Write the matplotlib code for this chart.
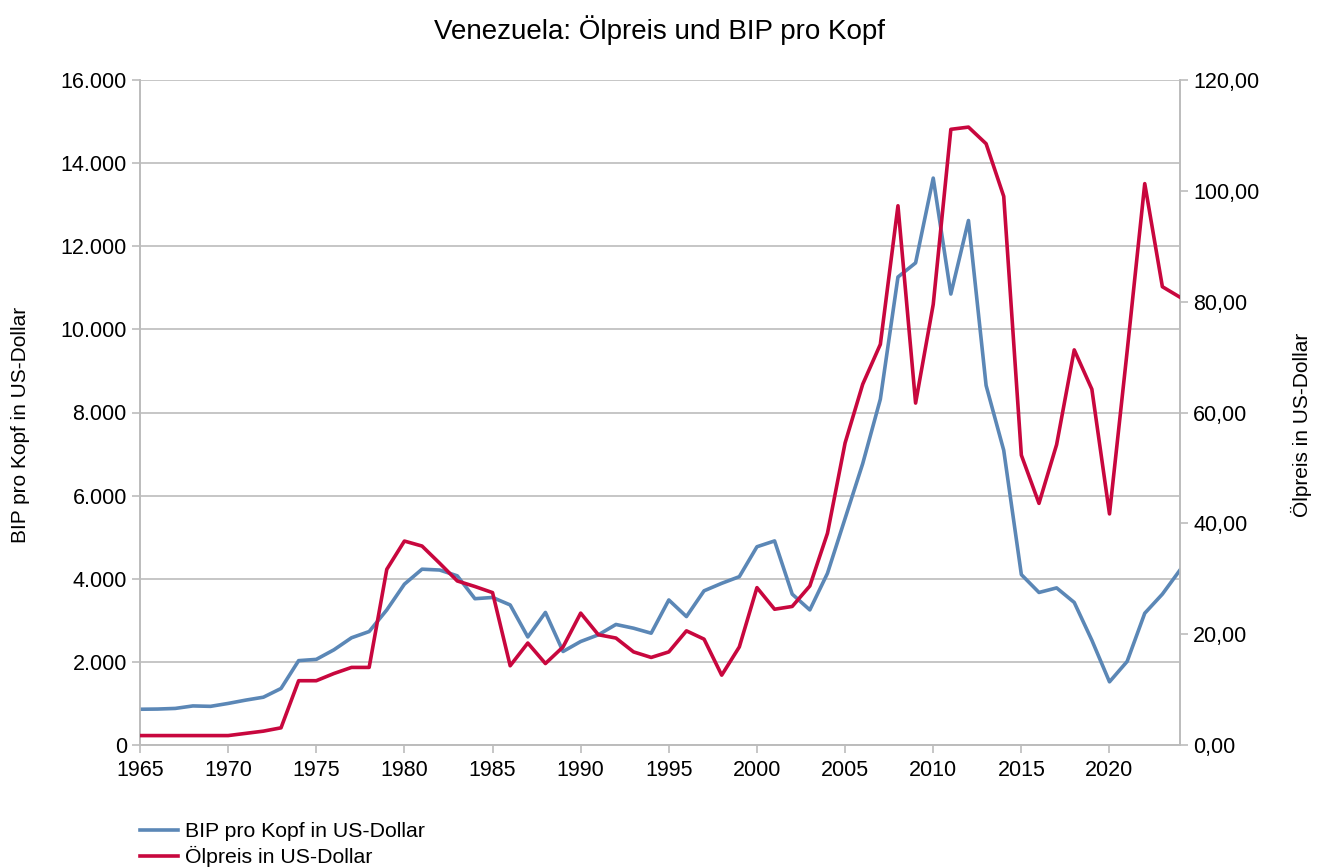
import matplotlib
matplotlib.use("Agg")
import matplotlib.pyplot as plt
from matplotlib.ticker import FuncFormatter, MultipleLocator

plt.rcParams['font.family'] = ['Liberation Sans', 'DejaVu Sans']

# Jahre 1965 - 2024
years = list(range(1965, 2025))

# BIP pro Kopf in US-Dollar (linke Achse)
bip = [860, 865, 880, 940, 930, 1000, 1080, 1150, 1360, 2030,
       2060, 2290, 2580, 2730, 3250, 3870, 4230, 4210, 4070, 3520,
       3550, 3370, 2600, 3190, 2250, 2490, 2650, 2900, 2810, 2690,
       3490, 3090, 3710, 3890, 4050, 4770, 4910, 3630, 3250, 4130,
       5450, 6770, 8320, 11260, 11600, 13640, 10850, 12620, 8650, 7090,
       4100, 3670, 3780, 3430, 2520, 1520, 2010, 3170, 3630, 4210]

# Ölpreis in US-Dollar (rechte Achse)
oel = [1.7, 1.7, 1.7, 1.7, 1.7, 1.7, 2.1, 2.5, 3.1, 11.6,
       11.6, 12.9, 14.0, 14.0, 31.7, 36.8, 35.9, 32.8, 29.6, 28.6,
       27.5, 14.3, 18.4, 14.7, 17.7, 23.8, 19.9, 19.3, 16.8, 15.8,
       16.8, 20.6, 19.1, 12.6, 17.7, 28.4, 24.5, 25.0, 28.7, 38.2,
       54.5, 65.1, 72.3, 97.3, 61.7, 79.5, 111.1, 111.5, 108.5, 99.0,
       52.3, 43.6, 54.2, 71.3, 64.2, 41.7, 71.0, 101.3, 82.7, 80.8]

blau = '#5b87b6'
rot = '#c8073e'
grau = '#bcbcbc'

fig = plt.figure(figsize=(13.2, 8.68), dpi=100)
ax1 = fig.add_axes([140/1320, 1 - 745/868, 1040/1320, 665/868])
ax2 = ax1.twinx()

l1, = ax1.plot(years, bip, color=blau, lw=2.6, zorder=3)
l2, = ax2.plot(years, oel, color=rot, lw=2.6, zorder=3)

ax1.set_xlim(1965, 2024)
ax1.set_ylim(0, 16000)
ax2.set_ylim(0, 120)
ax1.xaxis.set_major_locator(MultipleLocator(5))
ax1.yaxis.set_major_locator(MultipleLocator(2000))
ax2.yaxis.set_major_locator(MultipleLocator(20))

ax1.yaxis.set_major_formatter(FuncFormatter(lambda v, p: f'{int(v):,}'.replace(',', '.')))
ax2.yaxis.set_major_formatter(FuncFormatter(lambda v, p: f'{v:.2f}'.replace('.', ',')))

ax1.grid(axis='y', color=grau, lw=1.2, zorder=0)
ax1.set_axisbelow(True)

for ax in (ax1, ax2):
    ax.spines['top'].set_visible(False)
    for s in ('left', 'right', 'bottom'):
        ax.spines[s].set_color(grau)
        ax.spines[s].set_linewidth(1.2)
    ax.tick_params(colors=grau, labelcolor='black', labelsize=15.5, width=1.2, length=6)
ax1.tick_params(axis='x', pad=5)

ax1.set_ylabel('BIP pro Kopf in US-Dollar', fontsize=15)
ax2.set_ylabel('Ölpreis in US-Dollar', fontsize=15)
ax1.yaxis.set_label_coords(-0.106, 0.481)
ax2.yaxis.set_label_coords(1.107, 0.481)

fig.suptitle('Venezuela: Ölpreis und BIP pro Kopf', fontsize=20, y=0.982)

fig.legend([l1, l2], ['BIP pro Kopf in US-Dollar', 'Ölpreis in US-Dollar'],
           loc='upper left', bbox_to_anchor=(140/1320, 1 - 822/868), frameon=False,
           fontsize=15.3, handlelength=1.8, handletextpad=0.3, labelspacing=0.25,
           borderaxespad=0, borderpad=0)

fig.savefig('out.png', dpi=100)
